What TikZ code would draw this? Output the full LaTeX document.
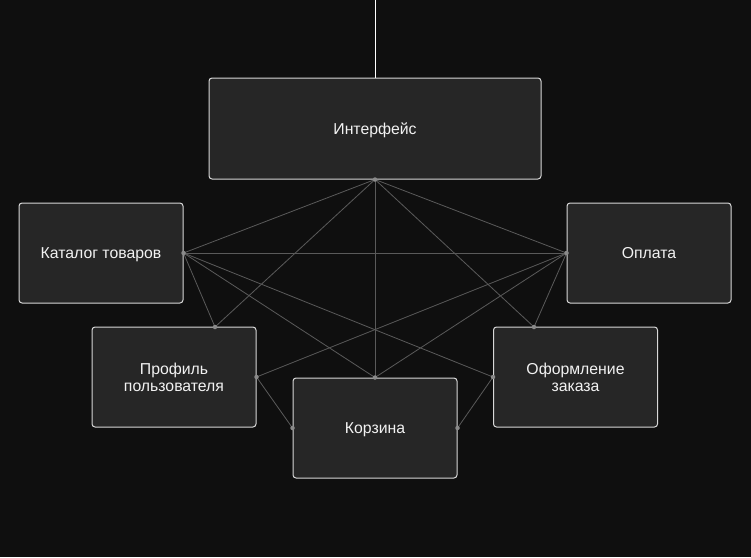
\documentclass[tikz,border=0pt]{standalone}
\usepackage{fontspec}
\setmainfont{Liberation Sans}
\definecolor{bgc}{HTML}{0F0F0F}
\definecolor{boxfill}{HTML}{262626}
\definecolor{boxline}{HTML}{D8D8D8}
\definecolor{edgec}{HTML}{5A5A5A}
\definecolor{portc}{HTML}{8A8A8A}
\definecolor{txtc}{HTML}{F2F2F2}
\begin{document}
\begin{tikzpicture}[x=1pt,y=-1pt,
  boxnode/.style={draw=boxline,fill=boxfill,line width=1pt,rounded corners=3pt,
    inner sep=0pt,text=txtc,font=\fontsize{15.8}{17}\selectfont,align=center},
  oneline/.style={text depth=0pt},
  edge/.style={draw=edgec,line width=0.8pt},
  port/.style={fill=portc,circle,inner sep=0pt,minimum size=4.5pt}]
\fill[bgc] (0,0) rectangle (751,557);
\useasboundingbox (0,0) rectangle (751,557);
\node[boxnode,oneline,minimum width=332pt,minimum height=101pt] (iface) at (375,128.5) {Интерфейс};
\node[boxnode,oneline,minimum width=164pt,minimum height=100pt] (cat) at (101,253) {Каталог товаров};
\node[boxnode,oneline,minimum width=164pt,minimum height=100pt] (pay) at (649,253) {Оплата};
\node[boxnode,minimum width=164pt,minimum height=100pt] (prof) at (174,377) {Профиль\\пользователя};
\node[boxnode,minimum width=164pt,minimum height=100pt] (order) at (575.5,377) {Оформление\\заказа};
\node[boxnode,oneline,minimum width=164pt,minimum height=100pt] (cart) at (375,428) {Корзина};
\coordinate (topend) at (375,0);
\coordinate (profT) at (215,327);
\coordinate (orderT) at (534,327);
\draw[white,line width=1pt] (topend) -- (iface.north);
\draw[edge] (iface.south) -- (cat.east);
\draw[edge] (iface.south) -- (pay.west);
\draw[edge] (iface.south) -- (profT);
\draw[edge] (iface.south) -- (cart.north);
\draw[edge] (iface.south) -- (orderT);
\draw[edge] (cat.east) -- (pay.west);
\draw[edge] (cat.east) -- (profT);
\draw[edge] (cat.east) -- (cart.north);
\draw[edge] (cat.east) -- (order.west);
\draw[edge] (pay.west) -- (prof.east);
\draw[edge] (pay.west) -- (cart.north);
\draw[edge] (pay.west) -- (orderT);
\draw[edge] (prof.east) -- (cart.west);
\draw[edge] (cart.east) -- (order.west);
\foreach \p in {iface.south,cat.east,pay.west,profT,orderT,prof.east,order.west,cart.north,cart.west,cart.east}
  \node[port] at (\p) {};
\end{tikzpicture}
\end{document}
